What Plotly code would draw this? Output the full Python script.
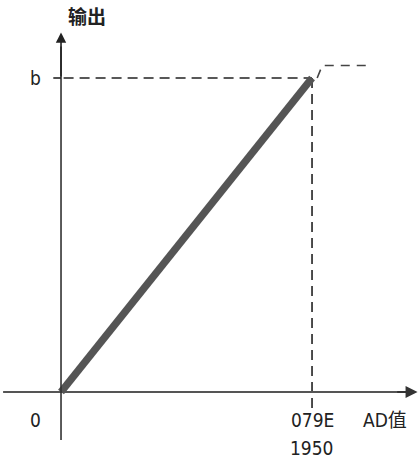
import plotly.graph_objects as go

# Transfer curve: output rises linearly with the AD value up to the full-scale point
ad_values = [0, 1950]          # AD value (decimal); 1950 = 0x079E
out_values = [0.0, 1.0]        # output, normalised so that full scale = b
ad_tick_hex = "079E"
ad_tick_dec = "1950"
out_tick_label = "b"
origin_label = "0"
x_title = "AD值"
y_title = "输出"

# Saturated region beyond full scale (dashed)
sat_x = [1990, 2030, 2370]
sat_y = [1.0, 1.04, 1.04]

X_RANGE = [-474, 2781]
Y_RANGE = [-0.2325, 1.2484]

AXIS_COLOR = "#333333"
LINE_COLOR = "#555555"
FONT = "DejaVu Sans Condensed, Noto Sans CJK SC, sans-serif"
DASH = "10px,6px"

fig = go.Figure()

# guide lines to the full-scale point
fig.add_trace(go.Scatter(x=[ad_values[0] + 20, ad_values[1]], y=[out_values[1]] * 2,
                         mode="lines", line=dict(color="#222", width=1.6, dash=DASH),
                         hoverinfo="skip"))
fig.add_trace(go.Scatter(x=[ad_values[1]] * 2, y=[out_values[1], -0.058],
                         mode="lines", line=dict(color="#222", width=1.6, dash=DASH),
                         hoverinfo="skip"))
fig.add_trace(go.Scatter(x=sat_x, y=sat_y, mode="lines",
                         line=dict(color="#444", width=1.6, dash="9px,7px"),
                         hoverinfo="skip"))

# main transfer line
fig.add_trace(go.Scatter(x=ad_values, y=out_values, mode="lines",
                         line=dict(color=LINE_COLOR, width=7.5), hoverinfo="skip"))

# x axis (left stub + arrow)
fig.add_trace(go.Scatter(x=[-450, 2700], y=[0, 0], mode="lines",
                         line=dict(color="#555", width=2.2), hoverinfo="skip"))
fig.add_annotation(x=2770, y=0, ax=2600, ay=0, xref="x", yref="y", axref="x", ayref="y",
                   showarrow=True, arrowhead=2, arrowsize=1.2, arrowwidth=2,
                   arrowcolor="#333", text="")
# y axis with arrow
fig.add_trace(go.Scatter(x=[0, 0], y=[-0.153, 1.1], mode="lines",
                         line=dict(color=AXIS_COLOR, width=1.6), hoverinfo="skip"))
fig.add_annotation(x=0, y=1.145, ax=0, ay=1.0, xref="x", yref="y", axref="x", ayref="y",
                   showarrow=True, arrowhead=2, arrowsize=1.3, arrowwidth=1.6,
                   arrowcolor="#222", text="")

# tick marks
fig.add_trace(go.Scatter(x=[-60, 0], y=[out_values[1]] * 2, mode="lines",
                         line=dict(color="#222", width=1.6), hoverinfo="skip"))

txt = dict(family=FONT, size=19, color="#222")
fig.add_annotation(x=-200, y=out_values[1], text=out_tick_label, showarrow=False, font=txt)
fig.add_annotation(x=-200, y=-0.09, text=origin_label, showarrow=False, font=txt)
fig.add_annotation(x=ad_values[1], y=-0.09, text=ad_tick_hex, showarrow=False, font=txt)
fig.add_annotation(x=ad_values[1], y=-0.178, text=ad_tick_dec, showarrow=False, font=txt)
fig.add_annotation(x=2515, y=-0.09, text=x_title, showarrow=False, font=txt)
fig.add_annotation(x=200, y=1.193, text="<b>" + y_title + "</b>", showarrow=False, font=txt)

fig.update_layout(
    width=419, height=465,
    margin=dict(l=0, r=0, t=0, b=0),
    paper_bgcolor="white", plot_bgcolor="white",
    showlegend=False,
    xaxis=dict(range=X_RANGE, visible=False, fixedrange=True),
    yaxis=dict(range=Y_RANGE, visible=False, fixedrange=True),
)

fig.write_html("out.html")
